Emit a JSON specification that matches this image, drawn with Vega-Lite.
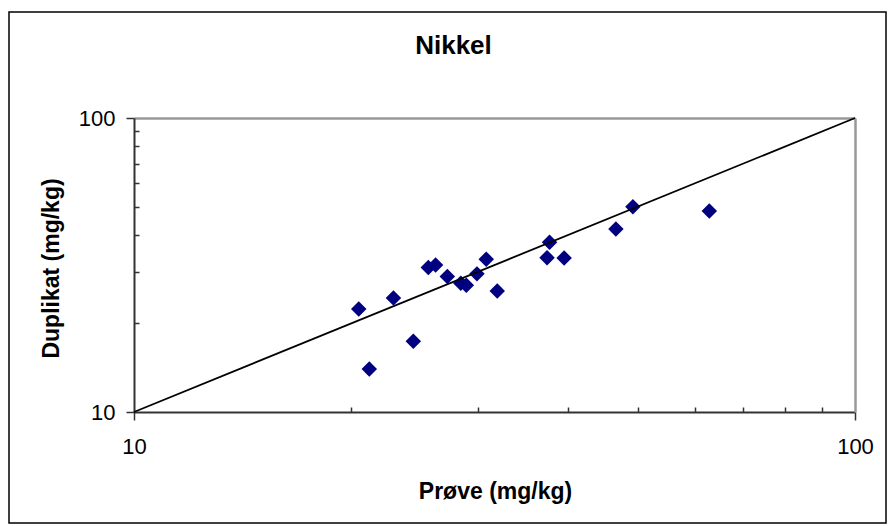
{
  "$schema": "https://vega.github.io/schema/vega-lite/v6.json",
  "width": 877,
  "height": 511,
  "autosize": "none",
  "padding": {"left": 9, "top": 12, "right": 2, "bottom": 3},
  "background": "white",
  "config": {
    "view": {"stroke": "#000000", "strokeWidth": 1.5},
    "font": "Liberation Sans"
  },
  "title": {
    "text": "Nikkel",
    "font": "Liberation Sans",
    "fontSize": 26,
    "fontWeight": "bold",
    "color": "#000000",
    "anchor": "middle",
    "frame": "group",
    "baseline": "alphabetic",
    "offset": -68,
    "dx": 6
  },
  "datasets": {
    "pts": [
      {"prove": 20.5, "duplikat": 22.4},
      {"prove": 22.9, "duplikat": 24.4},
      {"prove": 21.2, "duplikat": 14.0},
      {"prove": 24.4, "duplikat": 17.4},
      {"prove": 25.6, "duplikat": 31.0},
      {"prove": 26.2, "duplikat": 31.6},
      {"prove": 27.2, "duplikat": 28.9},
      {"prove": 28.4, "duplikat": 27.4},
      {"prove": 28.9, "duplikat": 27.0},
      {"prove": 29.9, "duplikat": 29.5},
      {"prove": 30.8, "duplikat": 33.1},
      {"prove": 31.9, "duplikat": 25.8},
      {"prove": 37.7, "duplikat": 37.8},
      {"prove": 37.4, "duplikat": 33.5},
      {"prove": 39.5, "duplikat": 33.4},
      {"prove": 46.6, "duplikat": 41.9},
      {"prove": 49.2, "duplikat": 49.9},
      {"prove": 62.8, "duplikat": 48.3}
    ],
    "diag": [
      {"prove": 10, "duplikat": 10},
      {"prove": 100, "duplikat": 100}
    ]
  },
  "layer": [
    {
      "data": {"name": "pts"},
      "mark": {"type": "point", "shape": "diamond", "filled": true, "color": "#000080", "opacity": 1, "size": 240, "strokeWidth": 0},
      "encoding": {
        "x": {
          "field": "prove", "type": "quantitative",
          "scale": {"type": "log", "domain": [10, 100], "range": [125, 846], "nice": false},
          "axis": {
            "orient": "bottom", "offset": -111, "values": [10, 100], "format": "d",
            "grid": false, "domain": true, "domainColor": "#333333", "domainWidth": 2,
            "ticks": true, "tickSize": 8, "tickColor": "#333333", "tickWidth": 1.5,
            "labelFont": "Liberation Sans", "labelFontSize": 22, "labelColor": "#000000",
            "labelPadding": 16, "labelFlush": false, "labelOverlap": false,
            "title": "Prøve (mg/kg)", "titleFont": "Liberation Sans", "titleFontSize": 23,
            "titleFontWeight": "bold", "titleColor": "#000000",
            "titleX": 486, "titleY": 86, "titleBaseline": "alphabetic", "titleAlign": "center", "titleAnchor": null
          }
        },
        "y": {
          "field": "duplikat", "type": "quantitative",
          "scale": {"type": "log", "domain": [10, 100], "range": [400, 106], "nice": false},
          "axis": {
            "orient": "left", "offset": -125, "values": [10, 100], "format": "d",
            "grid": false, "domain": true, "domainColor": "#333333", "domainWidth": 2,
            "ticks": true, "tickSize": 8, "tickColor": "#333333", "tickWidth": 1.5,
            "labelFont": "Liberation Sans", "labelFontSize": 22, "labelColor": "#000000",
            "labelPadding": 11, "labelFlush": false, "labelOverlap": false,
            "title": "Duplikat (mg/kg)", "titleFont": "Liberation Sans", "titleFontSize": 23,
            "titleFontWeight": "bold", "titleColor": "#000000",
            "titleX": -83, "titleY": 256, "titleBaseline": "middle", "titleAlign": "center", "titleAngle": -90, "titleAnchor": null
          }
        }
      }
    },
    {
      "data": {"name": "diag"},
      "mark": {"type": "line", "color": "#000000", "strokeWidth": 1.8},
      "encoding": {
        "x": {
          "field": "prove", "type": "quantitative",
          "scale": {"type": "log", "domain": [10, 100], "range": [125, 846], "nice": false},
          "axis": {
            "orient": "bottom", "offset": -111, "values": [20, 30, 40, 50, 60, 70, 80, 90],
            "grid": false, "domain": false, "labels": false, "title": null,
            "ticks": true, "tickSize": -5, "tickColor": "#333333", "tickWidth": 1.5
          }
        },
        "y": {
          "field": "duplikat", "type": "quantitative",
          "scale": {"type": "log", "domain": [10, 100], "range": [400, 106], "nice": false},
          "axis": {
            "orient": "left", "offset": -125, "values": [20, 30, 40, 50, 60, 70, 80, 90],
            "grid": false, "domain": false, "labels": false, "title": null,
            "ticks": true, "tickSize": -5, "tickColor": "#333333", "tickWidth": 1.5
          }
        }
      }
    },
    {
      "data": {"name": "diag"},
      "mark": {"type": "line", "color": "#000000", "strokeWidth": 0, "opacity": 0},
      "encoding": {
        "x": {
          "field": "prove", "type": "quantitative",
          "scale": {"type": "log", "domain": [10, 100], "range": [125, 846], "nice": false},
          "axis": {
            "orient": "top", "offset": -106, "values": [10, 100],
            "grid": false, "domain": true, "domainColor": "#999999", "domainWidth": 2.5,
            "labels": false, "ticks": false, "title": null
          }
        },
        "y": {
          "field": "duplikat", "type": "quantitative",
          "scale": {"type": "log", "domain": [10, 100], "range": [400, 106], "nice": false},
          "axis": {
            "orient": "right", "offset": -31, "values": [10, 100],
            "grid": false, "domain": true, "domainColor": "#999999", "domainWidth": 2.5,
            "labels": false, "ticks": false, "title": null
          }
        }
      }
    }
  ],
  "resolve": {"axis": {"x": "independent", "y": "independent"}}
}
